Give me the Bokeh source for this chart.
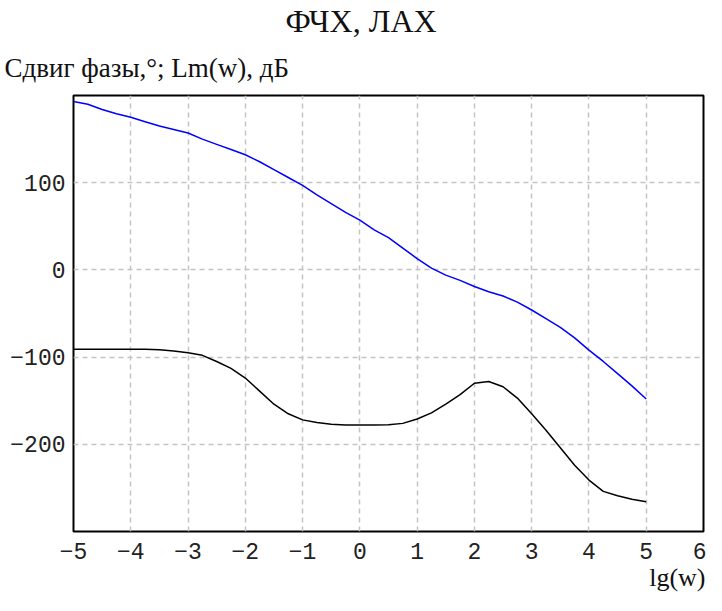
from bokeh.plotting import figure
from bokeh.models import Title, FixedTicker, Range1d
from bokeh.embed import file_html
from bokeh.resources import INLINE

# lg(w) grid
lg_w = [-5, -4.75, -4.5, -4.25, -4, -3.75, -3.5, -3.25, -3, -2.75, -2.5, -2.25,
        -2, -1.75, -1.5, -1.25, -1, -0.75, -0.5, -0.25, 0, 0.25, 0.5, 0.75,
        1, 1.25, 1.5, 1.75, 2, 2.25, 2.5, 2.75, 3, 3.25, 3.5, 3.75, 4, 4.25,
        4.5, 4.75, 5]

# Lm(w), dB (blue)
lm_db = [193, 190, 184, 179, 175, 170, 165, 161, 157, 150, 144, 138,
         132, 124, 115, 106, 97, 86, 76, 66, 57, 46, 37, 25,
         13, 2, -6, -12, -19, -25, -30, -37, -46, -56, -66, -78, -92, -105,
         -119, -133, -148]

# phase shift, degrees (black)
phase_deg = [-91, -91, -91, -91, -91, -91, -91.5, -93, -95, -98, -105, -113,
             -124, -139, -154, -165, -172, -175, -177, -178, -178, -178, -177.5, -176,
             -171, -164, -154, -143, -130, -128, -134, -147, -165, -184, -204, -224, -241, -254,
             -259, -263, -266]

x_ticks = [-5, -4, -3, -2, -1, 0, 1, 2, 3, 4, 5, 6]
y_ticks = [-200, -100, 0, 100]

p = figure(width=706, height=595, output_backend="svg", toolbar_location=None,
           x_range=Range1d(-5, 6), y_range=Range1d(-300, 200),
           min_border_left=73, min_border_right=3, min_border_top=0, min_border_bottom=0)

p.line(lg_w, lm_db, line_color="#0000ff", line_width=1.5)
p.line(lg_w, phase_deg, line_color="#000000", line_width=1.5)

p.xaxis.ticker = FixedTicker(ticks=x_ticks)
p.yaxis.ticker = FixedTicker(ticks=y_ticks)
for ax in (p.xaxis[0], p.yaxis[0]):
    ax.major_tick_out = 0
    ax.major_tick_in = 0
    ax.minor_tick_out = 0
    ax.minor_tick_in = 0
    ax.axis_line_color = None
    ax.major_label_text_font = "Liberation Mono"
    ax.major_label_text_font_size = "23px"
    ax.major_label_text_color = "#222222"
p.xaxis.major_label_standoff = 11
p.yaxis.major_label_standoff = 8

p.xgrid.grid_line_color = "#c4c4c4"
p.ygrid.grid_line_color = "#c4c4c4"
p.xgrid.grid_line_dash = "5 4"
p.ygrid.grid_line_dash = "5 4"
p.xgrid.grid_line_width = 1.5
p.ygrid.grid_line_width = 1.5

p.outline_line_color = "#000000"
p.outline_line_width = 2
p.outline_line_alpha = 1

p.add_layout(Title(text="lg(w)", align="right", vertical_align="top",
                   text_font="Liberation Serif",
                   text_font_size="26px", text_font_style="normal", text_color="#111111",
                   offset=-2, standoff=3), "below")
p.add_layout(Title(text="Сдвиг фазы,°; Lm(w), дБ", align="left", text_font="Liberation Serif",
                   text_font_size="27px", text_font_style="normal", text_color="#111111",
                   offset=-69, standoff=25), "above")
p.add_layout(Title(text="ФЧХ, ЛАХ", align="left", text_font="Liberation Serif",
                   text_font_size="32px", text_font_style="normal", text_color="#111111",
                   offset=212, standoff=0), "above")

open("out.html", "w").write(file_html(p, INLINE))
